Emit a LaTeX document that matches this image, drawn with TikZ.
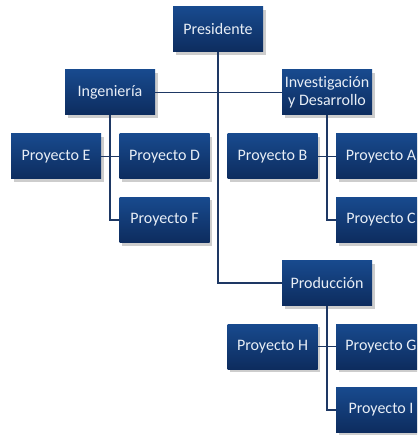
\documentclass[tikz,border=0pt]{standalone}
\usepackage{fontspec}
\setmainfont{Carlito}[Ligatures=NoCommon]
\usetikzlibrary{shadows}
\definecolor{boxtop}{RGB}{24,74,142}
\definecolor{boxbot}{RGB}{13,44,94}
\definecolor{linkcol}{RGB}{30,56,100}
\definecolor{boxtext}{RGB}{232,238,246}
\tikzset{
  unit/.style={rectangle, minimum width=90pt, minimum height=45pt, inner sep=1pt,
    top color=boxtop, bottom color=boxbot, draw=none,
    text=boxtext, font=\fontsize{16pt}{18pt}\selectfont, align=center,
    drop shadow={shadow xshift=2.5pt, shadow yshift=-3pt, opacity=0.28, fill=black!70}},
  link/.style={draw=linkcol, line width=1.8pt}
}
\begin{document}
\begin{tikzpicture}[x=1pt,y=-1pt]
  \clip (0,0) rectangle (417,435);
  \fill[white] (0,0) rectangle (417,435);

  % top level
  \node[unit] (pres) at (218,29.5) {Presidente};

  % departments
  \node[unit] (ing)  at (110,92.5)  {Ingeniería};
  \node[unit] (iyd)  at (327,92.5)  {Investigación\\y Desarrollo};
  \node[unit] (prod) at (327,283)   {Producción};

  % projects of Ingeniería
  \node[unit] (pe) at (56,156.5)   {Proyecto E};
  \node[unit] (pd) at (164.5,156.5){Proyecto D};
  \node[unit] (pf) at (164.5,220)  {Proyecto F};

  % projects of Investigación y Desarrollo
  \node[unit] (pb) at (272.5,156.5){Proyecto B};
  \node[unit] (pa) at (381,156.5)  {Proyecto A};
  \node[unit] (pc) at (381,220)    {Proyecto C};

  % projects of Producción
  \node[unit] (ph) at (272.5,346.5){Proyecto H};
  \node[unit] (pg) at (381,346.5)  {Proyecto G};
  \node[unit] (pi) at (381,410)    {Proyecto I};

  % connectors
  \draw[link] (pres.south) |- (prod.west);
  \draw[link] (ing.east) -- (iyd.west);

  \draw[link] (ing.south) |- (pf.west);
  \draw[link] (pe.east) -- (pd.west);

  \draw[link] (iyd.south) |- (pc.west);
  \draw[link] (pb.east) -- (pa.west);

  \draw[link] (prod.south) |- (pi.west);
  \draw[link] (ph.east) -- (pg.west);
\end{tikzpicture}
\end{document}
